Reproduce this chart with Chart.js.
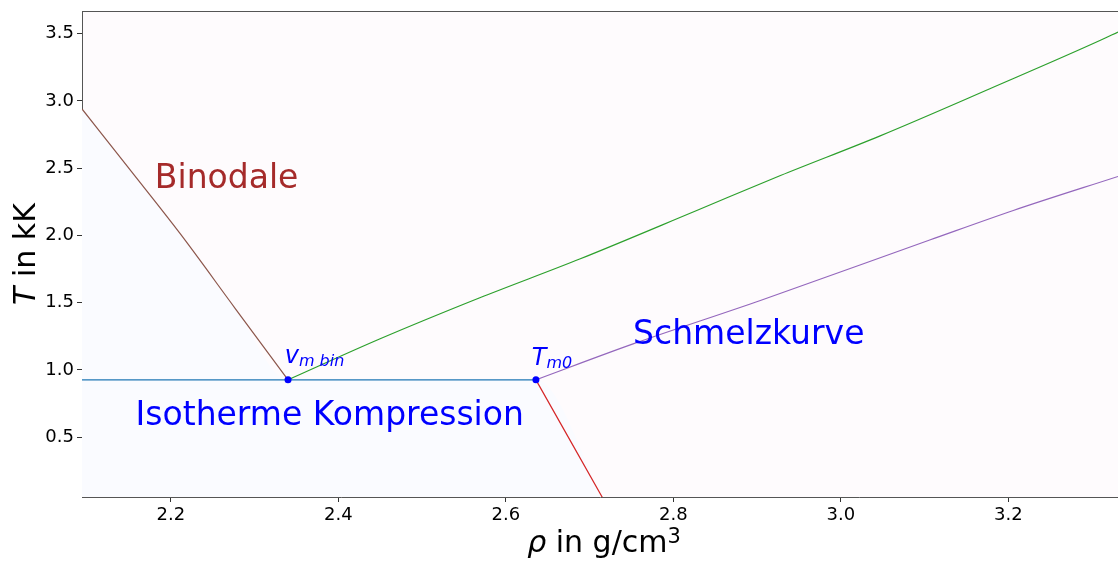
<!DOCTYPE html>
<html>
<head>
<meta charset="utf-8">
<script src="https://cdn.jsdelivr.net/npm/chart.js@4.4.1/dist/chart.umd.min.js"></script>
<style>
  html, body { margin: 0; padding: 0; background: #fff; }
</style>
</head>
<body>
<canvas id="chartPhasen" width="1118" height="562"></canvas>
<script>
// achsen
const xTicks = [2.2, 2.4, 2.6, 2.8, 3.0, 3.2];
const yTicks = [0.5, 1.0, 1.5, 2.0, 2.5, 3.0, 3.5];
const xRange = [2.094, 3.331];
const yRange = [0.055, 3.668];

// kurven
const binodaleRho = [2.094, 2.151, 2.211, 2.277, 2.340];
const binodaleT = [2.94, 2.49, 2.014, 1.456, 0.926];

const isoRho = [2.0, 2.340, 2.636];
const isoT = [0.926, 0.926, 0.926];

const gruenRho = [2.340, 2.450, 2.569, 2.689, 2.828, 2.928, 3.047, 3.178, 3.310, 3.331];
const gruenT = [0.926, 1.231, 1.536, 1.826, 2.185, 2.445, 2.740, 3.090, 3.450, 3.512];

const schmelzRho = [2.636, 2.752, 2.904, 3.107, 3.206, 3.331];
const schmelzT = [0.926, 1.193, 1.516, 1.967, 2.185, 2.438];

const abfallRho = [2.636, 2.720];
const abfallT = [0.926, 0.0];

const punktRho = [2.340, 2.636];
const punktT = [0.926, 0.926];

// beschriftungen
const labels = [
  { text: "Binodale", rho: 2.181, T: 2.354, color: "#a52a2a" },
  { text: "Schmelzkurve", rho: 2.752, T: 1.193, color: "#0000ff" },
  { text: "Isotherme Kompression", rho: 2.158, T: 0.591, color: "#0000ff" },
];
const punktLabels = [
  { main: "v", sub: "m bin", rho: 2.336, T: 1.049 },
  { main: "T", sub: "m0", rho: 2.631, T: 1.037 },
];

const pts = (xs, ys) => xs.map((x, i) => ({ x, y: ys[i] }));

const FONT = '"DejaVu Sans", sans-serif';

function drawParts(ctx, parts, x, y) {
  let cx = x;
  parts.forEach((p) => {
    ctx.font = p.font;
    ctx.fillText(p.text, cx, y - (p.rise || 0));
    cx += ctx.measureText(p.text).width;
  });
}

function partsWidth(ctx, parts) {
  return parts.reduce((s, p) => {
    ctx.font = p.font;
    return s + ctx.measureText(p.text).width;
  }, 0);
}

const deko = {
  id: "deko",
  beforeDraw(chart) {
    const { ctx, chartArea: a } = chart;
    ctx.save();
    ctx.fillStyle = "#fefbfd";
    ctx.fillRect(a.left, a.top, a.right - a.left, a.bottom - a.top);
    ctx.restore();
  },
  afterDraw(chart) {
    const { ctx, chartArea: a, scales } = chart;
    const px = (v) => scales.x.getPixelForValue(v);
    const py = (v) => scales.y.getPixelForValue(v);
    ctx.save();

    // obere achsenlinie
    ctx.strokeStyle = "#555";
    ctx.lineWidth = 1;
    ctx.beginPath();
    ctx.moveTo(a.left, a.top + 0.5);
    ctx.lineTo(a.right, a.top + 0.5);
    ctx.stroke();

    ctx.textBaseline = "alphabetic";
    ctx.textAlign = "left";

    // texte im diagramm
    labels.forEach((l) => {
      ctx.fillStyle = l.color;
      ctx.font = `33px ${FONT}`;
      ctx.fillText(l.text, px(l.rho), py(l.T));
    });

    punktLabels.forEach((l) => {
      ctx.fillStyle = "#0000ff";
      drawParts(ctx, [
        { text: l.main, font: `italic 24px ${FONT}` },
        { text: l.sub, font: `italic 16px ${FONT}`, rise: -3 },
      ], px(l.rho), py(l.T));
    });

    ctx.fillStyle = "#000";

    // x-titel
    const xParts = [
      { text: "\u03c1", font: `italic 30px ${FONT}` },
      { text: " in g/cm", font: `30px ${FONT}` },
      { text: "3", font: `21px ${FONT}`, rise: 9 },
    ];
    const xw = partsWidth(ctx, xParts);
    drawParts(ctx, xParts, (a.left + a.right) / 2 + 4 - xw / 2, 552);

    // y-titel
    const yParts = [
      { text: "T", font: `italic 30px ${FONT}` },
      { text: " in kK", font: `30px ${FONT}` },
    ];
    const yw = partsWidth(ctx, yParts);
    ctx.translate(35, (a.top + a.bottom) / 2);
    ctx.rotate(-Math.PI / 2);
    drawParts(ctx, yParts, -yw / 2, 0);

    ctx.restore();
  },
};

const lineSet = (data, color) => ({
  data,
  showLine: true,
  borderColor: color,
  borderWidth: 1.2,
  pointRadius: 0,
  cubicInterpolationMode: "monotone",
  fill: false,
});

const noPad = (s) => {
  s.paddingTop = 0;
  s.paddingBottom = 0;
  s.paddingLeft = 0;
  s.paddingRight = 0;
};

new Chart(document.getElementById("chartPhasen").getContext("2d"), {
  type: "scatter",
  data: {
    datasets: [
      {
        data: pts(punktRho, punktT),
        pointRadius: 3.5,
        pointBackgroundColor: "#0000ff",
        pointBorderWidth: 0,
        showLine: false,
      },
      lineSet(pts(binodaleRho, binodaleT), "#8c564b"),
      lineSet(pts(isoRho, isoT), "#1f77b4"),
      lineSet(pts(gruenRho, gruenT), "#2ca02c"),
      lineSet(pts(schmelzRho, schmelzT), "#9467bd"),
      lineSet(pts(abfallRho, abfallT), "#d62728"),
      {
        data: [...pts(binodaleRho, binodaleT), ...pts(abfallRho, abfallT)],
        showLine: true,
        borderWidth: 0,
        pointRadius: 0,
        backgroundColor: "#fafbff",
        cubicInterpolationMode: "monotone",
        fill: "start",
      },
    ],
  },
  options: {
    responsive: false,
    animation: false,
    devicePixelRatio: 1,
    layout: { autoPadding: false, padding: { top: 11, right: 0, left: 0, bottom: 0 } },
    plugins: { legend: { display: false }, tooltip: { enabled: false } },
    scales: {
      x: {
        type: "linear",
        min: xRange[0],
        max: xRange[1],
        afterBuildTicks: (s) => { s.ticks = xTicks.map((v) => ({ value: v })); },
        afterFit: (s) => { s.height = 65; noPad(s); },
        ticks: {
          font: { family: "DejaVu Sans", size: 18 },
          color: "#000",
          padding: 3,
          maxRotation: 0,
          autoSkip: false,
          callback: (v) => Number(v).toFixed(1),
        },
        grid: { drawOnChartArea: false, drawTicks: true, tickLength: 5, color: "#333" },
        border: { display: true, color: "#555", width: 1 },
      },
      y: {
        type: "linear",
        min: yRange[0],
        max: yRange[1],
        afterBuildTicks: (s) => { s.ticks = yTicks.map((v) => ({ value: v })); },
        afterFit: (s) => { s.width = 82; noPad(s); },
        ticks: {
          font: { family: "DejaVu Sans", size: 18 },
          color: "#000",
          padding: 3,
          autoSkip: false,
          callback: (v) => Number(v).toFixed(1),
        },
        grid: { drawOnChartArea: false, drawTicks: true, tickLength: 5, color: "#333" },
        border: { display: true, color: "#555", width: 1 },
      },
    },
  },
  plugins: [deko],
});
</script>
</body>
</html>
